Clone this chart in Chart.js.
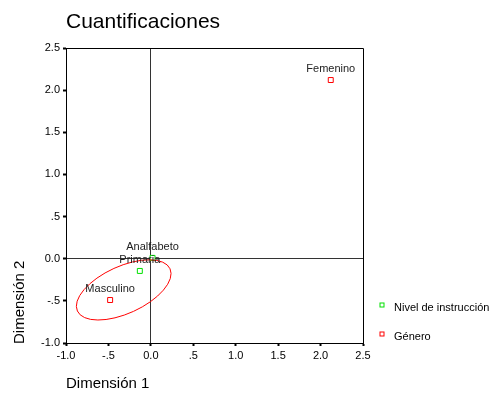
<!DOCTYPE html>
<html>
<head>
<meta charset="utf-8">
<script src="https://cdn.jsdelivr.net/npm/chart.js@4/dist/chart.umd.min.js"></script>
<style>body{margin:0;background:#fff}</style>
</head>
<body>
<canvas id="chart" width="497" height="400"></canvas>
<script>
const nivelLabels = ['Analfabeto', 'Primaria'];
const nivelX = [0.02, -0.13];
const nivelY = [0.01, -0.145];
const generoLabels = ['Femenino', 'Masculino'];
const generoX = [2.12, -0.48];
const generoY = [2.12, -0.49];
const tickValues = [-1, -0.5, 0, 0.5, 1, 1.5, 2, 2.5];
const tickLabels = ['-1.0', '-.5', '0.0', '.5', '1.0', '1.5', '2.0', '2.5'];
// ellipse: center x, center y, semi axis a, semi axis b, angle (deg)
const ellipse = [-0.32, -0.37, 0.60, 0.28, 24.5];

const FONT = '"Liberation Sans", Arial, sans-serif';

const extras = {
  id: 'extras',
  afterDatasetsDraw(chart) {
    const { ctx, chartArea: a, scales: { x, y } } = chart;
    ctx.save();
    // top and right frame
    ctx.strokeStyle = '#000';
    ctx.lineWidth = 1;
    ctx.beginPath();
    ctx.moveTo(a.left, Math.round(a.top) + 0.5);
    ctx.lineTo(Math.round(a.right) + 0.5, Math.round(a.top) + 0.5);
    ctx.lineTo(Math.round(a.right) + 0.5, a.bottom);
    ctx.stroke();

    // ellipse
    const [ex, ey, ea, eb, ang] = ellipse;
    ctx.beginPath();
    ctx.ellipse(
      x.getPixelForValue(ex), y.getPixelForValue(ey),
      Math.abs(x.getPixelForValue(ex + ea) - x.getPixelForValue(ex)),
      Math.abs(y.getPixelForValue(ey + eb) - y.getPixelForValue(ey)),
      -ang * Math.PI / 180, 0, 2 * Math.PI
    );
    ctx.strokeStyle = '#ff0000';
    ctx.stroke();

    // point labels
    ctx.font = '11px ' + FONT;
    ctx.fillStyle = '#222';
    ctx.textAlign = 'center';
    ctx.textBaseline = 'alphabetic';
    chart.data.datasets.forEach((ds, i) => {
      chart.getDatasetMeta(i).data.forEach((pt, j) => {
        ctx.fillText(ds.names[j], pt.x, pt.y - 8);
      });
    });

    // legend
    ctx.textAlign = 'left';
    chart.data.datasets.forEach((ds, i) => {
      const cy = a.bottom - 38 + i * 29;
      const cx = a.right + 19;
      ctx.strokeStyle = ds.borderColor;
      ctx.strokeRect(cx - 2, cy - 2, 4, 4);
      ctx.fillStyle = '#000';
      ctx.fillText(ds.label, a.right + 31, cy + 6);
    });
    ctx.restore();
  },
  afterDraw(chart) {
    const { ctx, chartArea: a } = chart;
    ctx.save();
    ctx.fillStyle = '#000';
    ctx.textBaseline = 'alphabetic';
    ctx.textAlign = 'left';
    ctx.font = '21px ' + FONT;
    ctx.fillText('Cuantificaciones', a.left, 28);
    ctx.font = '15px ' + FONT;
    ctx.fillText('Dimensión 1', a.left, 388);
    ctx.translate(24, a.bottom + 1);
    ctx.rotate(-Math.PI / 2);
    ctx.fillText('Dimensión 2', 0, 0);
    ctx.restore();
  }
};

const axis = (size) => ({
  type: 'linear',
  min: -1,
  max: 2.5,
  afterBuildTicks: (s) => { s.ticks = tickValues.map((v) => ({ value: v })); },
  afterFit: (s) => { if (s.isHorizontal()) s.height = size; else s.width = size; },
  ticks: {
    callback: (v, i) => tickLabels[i],
    font: { family: FONT, size: 11 },
    color: '#000',
    padding: 3,
    maxRotation: 0,
    autoSkip: false,
  },
  grid: {
    color: (c) => (c.tick && c.tick.value === 0 ? '#333' : 'rgba(0,0,0,0)'),
    tickColor: '#000',
    tickLength: 3,
    tickWidth: 2,
    lineWidth: 1,
  },
  border: { display: true, color: '#000', width: 1 },
});

new Chart(document.getElementById('chart').getContext('2d'), {
  type: 'scatter',
  data: {
    datasets: [
      {
        label: 'Nivel de instrucción',
        names: nivelLabels,
        data: nivelX.map((v, i) => ({ x: v, y: nivelY[i] })),
        borderColor: '#00e000',
        backgroundColor: '#fff',
      },
      {
        label: 'Género',
        names: generoLabels,
        data: generoX.map((v, i) => ({ x: v, y: generoY[i] })),
        borderColor: '#ff0000',
        backgroundColor: '#fff',
      },
    ],
  },
  options: {
    responsive: false,
    animation: false,
    devicePixelRatio: 1,
    events: [],
    layout: { padding: { top: 48, right: 134, left: 0, bottom: 0 } },
    elements: { point: { pointStyle: 'rect', radius: 3.5, borderWidth: 1 } },
    plugins: { legend: { display: false }, title: { display: false }, tooltip: { enabled: false } },
    scales: { x: axis(57), y: axis(66) },
  },
  plugins: [extras],
});
</script>
</body>
</html>
